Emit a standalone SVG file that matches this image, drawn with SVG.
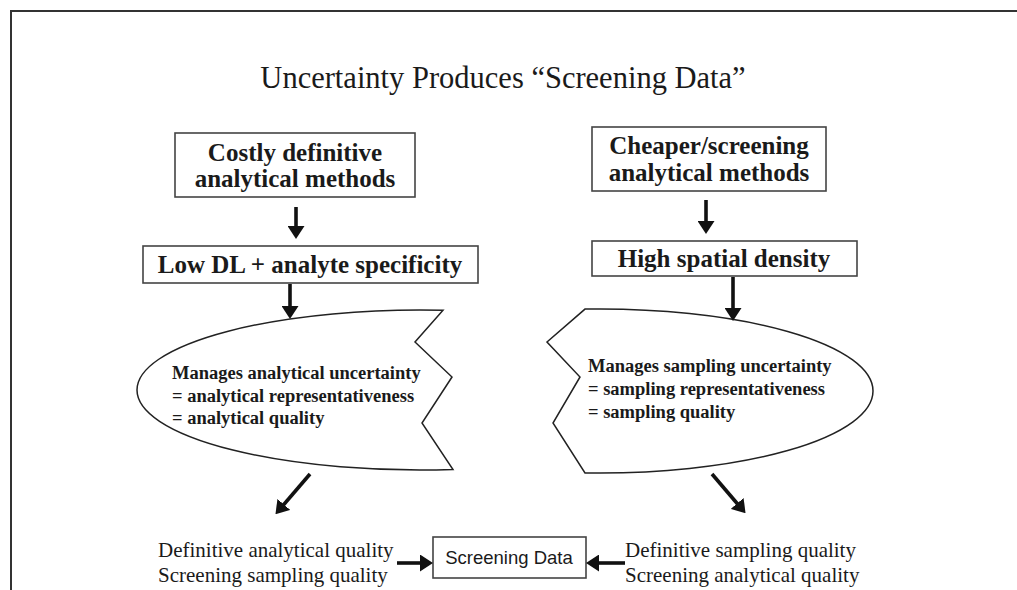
<svg xmlns="http://www.w3.org/2000/svg" width="1017" height="590" viewBox="0 0 1017 590">
<defs>
<style>
.frame{fill:none;stroke:#333;stroke-width:2}
.box{fill:#fff;stroke:#444;stroke-width:1.6}
.flag{fill:#fff;stroke:#222;stroke-width:1.5}
.bt{font-family:"Liberation Serif","Times New Roman",serif;font-weight:bold;font-size:25px;fill:#1a1a1a;text-anchor:middle}
.ft{font-family:"Liberation Serif","Times New Roman",serif;font-weight:bold;font-size:18.5px;fill:#1a1a1a}
.nt{font-family:"Liberation Serif","Times New Roman",serif;font-size:21px;fill:#1a1a1a}
.title{font-family:"Liberation Serif","Times New Roman",serif;font-size:30.5px;fill:#1a1a1a;text-anchor:middle}
.st{font-family:"Liberation Sans",Arial,sans-serif;font-size:18.5px;fill:#1a1a1a;text-anchor:middle}
.arr{stroke:#111;stroke-width:3.6;fill:none;marker-end:url(#ah)}
</style>
<marker id="ah" viewBox="0 0 13 17" refX="6" refY="8.5" markerWidth="13" markerHeight="17" markerUnits="userSpaceOnUse" orient="auto">
<path d="M0,0 L13,8.5 L0,17 Z" fill="#111"/>
</marker>
</defs>
<rect width="1017" height="590" fill="#fff"/>
<path class="frame" d="M11,590 L11,11 L1017,11"/>
<text class="title" x="503" y="88">Uncertainty Produces “Screening Data”</text>

<g id="costly">
<rect class="box" x="175" y="133" width="240" height="64"/>
<text class="bt" x="295" y="161">Costly definitive</text>
<text class="bt" x="295" y="187">analytical methods</text>
</g>
<g id="lowdl">
<rect class="box" x="143" y="246" width="335" height="37"/>
<text class="bt" x="310" y="273">Low DL + analyte specificity</text>
</g>
<g id="cheaper">
<rect class="box" x="592" y="127" width="234" height="64"/>
<text class="bt" x="709" y="154">Cheaper/screening</text>
<text class="bt" x="709" y="181">analytical methods</text>
</g>
<g id="highdensity">
<rect class="box" x="592" y="241" width="265" height="35"/>
<text class="bt" x="724" y="267">High spatial density</text>
</g>
<g id="analyticalFlag">
<path class="flag" d="M443,310.3 A283,80 0 0 0 137,390 A283,80 0 0 0 453,469.5 L422,423 L452,377 L415,342 Z"/>
<text class="ft" x="172" y="379">Manages analytical uncertainty</text>
<text class="ft" x="172" y="402">= analytical representativeness</text>
<text class="ft" x="172" y="424">= analytical quality</text>
</g>
<g id="samplingFlag">
<path class="flag" d="M585,309.1 A273,82 0 0 1 873,391 A273,82 0 0 1 585,472.9 L553,423 L580,377 L547,342 Z"/>
<text class="ft" x="588" y="372">Manages sampling uncertainty</text>
<text class="ft" x="588" y="395">= sampling representativeness</text>
<text class="ft" x="588" y="418">= sampling quality</text>
</g>
<g id="leftResult">
<text class="nt" x="158" y="557">Definitive analytical quality</text>
<text class="nt" x="158" y="582">Screening sampling quality</text>
</g>
<g id="rightResult">
<text class="nt" x="625" y="557">Definitive sampling quality</text>
<text class="nt" x="625" y="582">Screening analytical quality</text>
</g>
<g id="screeningData">
<rect class="box" x="433" y="537" width="153" height="41" stroke-width="1.3"/>
<text class="st" x="509" y="564">Screening Data</text>
</g>
<g id="connectors">
<line class="arr" x1="296" y1="207" x2="296" y2="232"/>
<line class="arr" x1="290" y1="284" x2="290" y2="312"/>
<line class="arr" x1="706" y1="200" x2="706" y2="227"/>
<line class="arr" x1="733" y1="277" x2="733" y2="314"/>
<line class="arr" x1="310" y1="474" x2="280" y2="509"/>
<line class="arr" x1="712" y1="474" x2="741" y2="508"/>
<line class="arr" x1="397" y1="563" x2="426" y2="563"/>
<line class="arr" x1="625" y1="563" x2="593" y2="563"/>
</g>
</svg>
